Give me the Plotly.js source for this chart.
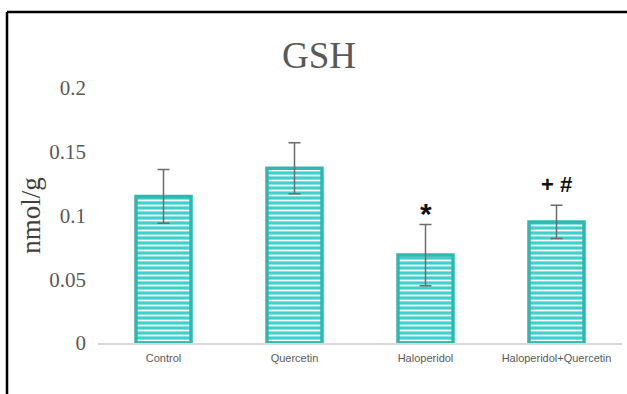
<!DOCTYPE html>
<html>
<head>
<meta charset="utf-8">
<script src="https://cdn.plot.ly/plotly-3.0.1.min.js"></script>
<style>
  html, body { margin: 0; padding: 0; background: #ffffff; }
  #chart { width: 627px; height: 394px; }
</style>
</head>
<body>
<div id="chart"></div>
<script>
// GSH levels per treatment group (nmol/g), mean and error
const groups = ['Control', 'Quercetin', 'Haloperidol', 'Haloperidol+Quercetin'];
const gshMean = [0.115, 0.137, 0.069, 0.095];
const gshError = [0.021, 0.020, 0.024, 0.013];
const marks = ['', '', '*', '+ #'];
const yTicks = [0, 0.05, 0.1, 0.15, 0.2];
const yTickText = ['0', '0.05', '0.1', '0.15', '0.2'];

// plot area geometry in pixels
const W = 627, H = 394;
const M = { l: 98, r: 5, t: 88, b: 51 };
const pw = W - M.l - M.r, ph = H - M.t - M.b;
const px = x => (x - M.l) / pw;
const py = y => (H - M.b - y) / ph;

const bars = {
  type: 'bar',
  x: groups,
  y: gshMean,
  width: 0.42,
  marker: {
    color: '#3fcfcc',
    line: { color: '#2fb8b0', width: 3.5 },
    pattern: {
      shape: '-',
      bgcolor: '#3fcfcc',
      fgcolor: '#ffffff',
      size: 5,
      solidity: 0.35,
      fillmode: 'replace'
    }
  },
  error_y: {
    type: 'data',
    array: gshError,
    visible: true,
    color: '#6b6b6b',
    thickness: 1.5,
    width: 6
  },
  hoverinfo: 'skip'
};

// significance marks sit above the error bar caps; the asterisk glyph
// rides high in its line box, so it gets a larger size and a downward shift
const markStyle = {
  '*': { size: 30, yshift: -8 },
  '+ #': { size: 22, yshift: 6 }
};
const annotations = [];
groups.forEach((g, i) => {
  if (!marks[i]) return;
  const s = markStyle[marks[i]];
  annotations.push({
    x: g,
    y: gshMean[i] + gshError[i],
    xref: 'x', yref: 'y',
    text: '<b>' + marks[i] + '</b>',
    showarrow: false,
    yanchor: 'bottom',
    yshift: s.yshift,
    font: { family: 'Liberation Sans, Arial, sans-serif', size: s.size, color: '#111111' }
  });
});

const frameLine = { color: '#000000', width: 2.5 };
const shapes = [
  { type: 'line', xref: 'paper', yref: 'paper',
    x0: px(7), x1: px(627), y0: py(12), y1: py(12), line: frameLine },
  { type: 'line', xref: 'paper', yref: 'paper',
    x0: px(7), x1: px(7), y0: py(12), y1: py(394), line: frameLine }
];

const layout = {
  width: W, height: H,
  margin: M,
  paper_bgcolor: '#ffffff',
  plot_bgcolor: '#ffffff',
  showlegend: false,
  title: {
    text: 'GSH',
    font: { family: 'Liberation Serif, serif', size: 37, color: '#595959' },
    x: 319 / W, xanchor: 'center',
    y: 1 - 55 / H, yanchor: 'middle'
  },
  xaxis: {
    type: 'category',
    showgrid: false,
    zeroline: false,
    showline: true,
    linecolor: '#d9d9d9',
    linewidth: 1.5,
    layer: 'below traces',
    ticks: '',
    tickfont: { family: 'Liberation Sans, Arial, sans-serif', size: 11, color: '#595959' },
    ticklabelstandoff: 4
  },
  yaxis: {
    range: [0, 0.2],
    tickvals: yTicks,
    ticktext: yTickText,
    showgrid: false,
    zeroline: false,
    showline: false,
    ticks: '',
    ticklabelstandoff: 11,
    tickfont: { family: 'Liberation Serif, serif', size: 21, color: '#595959' },
    title: {
      text: 'nmol/g',
      font: { family: 'Liberation Serif, serif', size: 27, color: '#404040' },
      standoff: 0
    }
  },
  annotations: annotations,
  shapes: shapes
};

Plotly.newPlot('chart', [bars], layout, { staticPlot: true, displayModeBar: false });
</script>
</body>
</html>
